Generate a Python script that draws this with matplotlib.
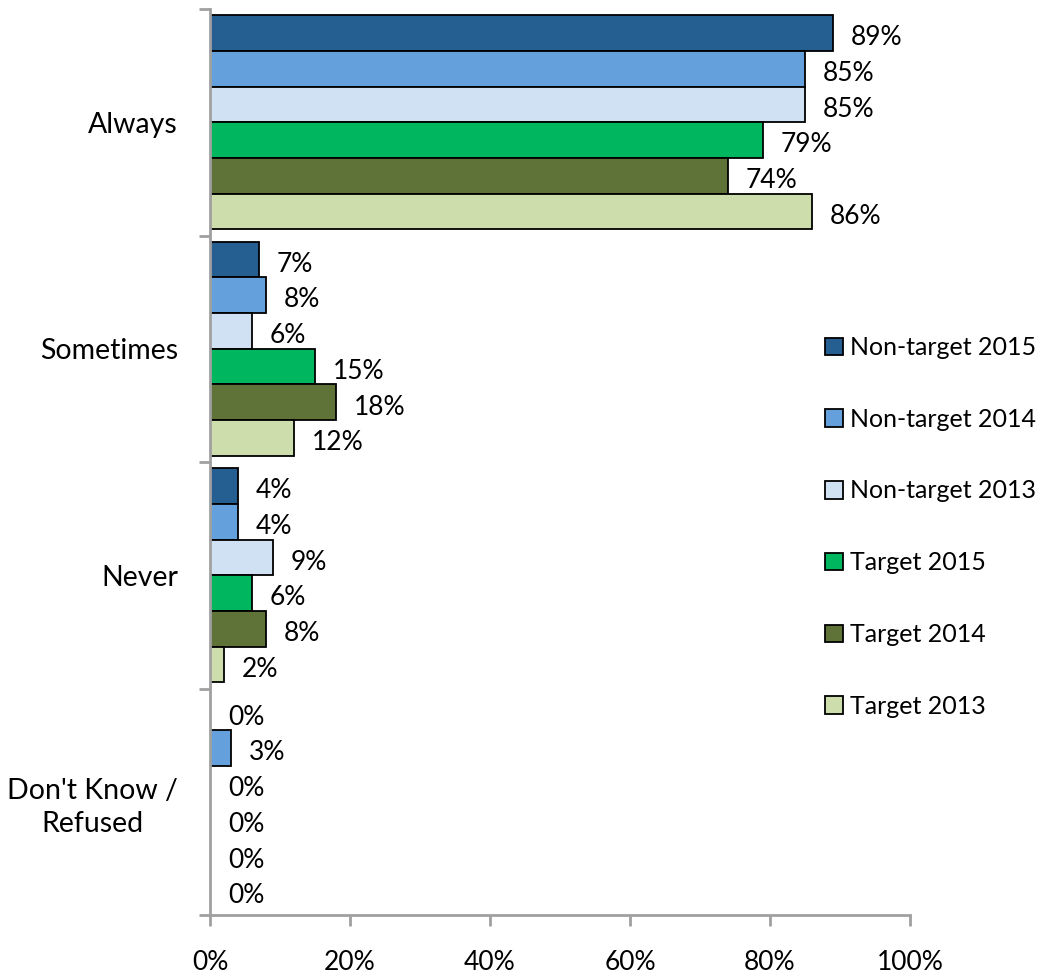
import matplotlib
matplotlib.use("Agg")
import matplotlib.pyplot as plt
import numpy as np

plt.rcParams['font.family'] = ['Lato', 'DejaVu Sans']

categories = ["Always", "Sometimes", "Never", "Don't Know /\nRefused"]
series_names = ["Non-target 2015", "Non-target 2014", "Non-target 2013",
                "Target 2015", "Target 2014", "Target 2013"]
nt2015 = [89, 7, 4, 0]
nt2014 = [85, 8, 4, 3]
nt2013 = [85, 6, 9, 0]
t2015 = [79, 15, 6, 0]
t2014 = [74, 18, 8, 0]
t2013 = [86, 12, 2, 0]
series_values = [nt2015, nt2014, nt2013, t2015, t2014, t2013]
colors = ["#255E91", "#64A0DC", "#CFE1F3", "#00B760", "#5F7238", "#CDDDAC"]
xticks = [0, 20, 40, 60, 80, 100]
xtick_labels = ["0%", "20%", "40%", "60%", "80%", "100%"]

fig = plt.figure(figsize=(10.44, 9.75), dpi=100)
ax = fig.add_axes([210/1044, 60/975, 700/1044, 906/975])

n = len(series_names)
group = 0.947
h = group / n
ypos = np.arange(len(categories))
for j, (name, vals, c) in enumerate(zip(series_names, series_values, colors)):
    y = ypos + (j - (n - 1) / 2) * h
    ax.barh(y, vals, height=h, color=c, edgecolor="black", linewidth=1.3, label=name)
    for yy, v in zip(y, vals):
        ax.annotate(f"{v}%", xy=(v, yy), xytext=(13, -3.5), textcoords="offset points",
                    ha="left", va="center", fontsize=19)

ax.set_xlim(0, 100)
ax.set_ylim(len(categories) - 0.5, -0.5)
ax.set_xticks(xticks)
ax.set_xticklabels(xtick_labels, fontsize=19)
ax.set_yticks(ypos)
ax.set_yticklabels(categories, fontsize=20.5, multialignment="center", linespacing=1.3)
for t in ax.get_yticklabels():
    t.set_y(t.get_position()[1])
ax.set_yticks(np.arange(len(categories) + 1) - 0.5, minor=True)
ax.tick_params(axis="y", which="major", length=0, pad=23)
ax.tick_params(axis="y", which="minor", length=8, width=2, color="#A0A0A0", direction="out")
ax.tick_params(axis="x", which="major", length=8, width=2, color="#A0A0A0", direction="out", pad=17)

for s in ["top", "right"]:
    ax.spines[s].set_visible(False)
for s in ["left", "bottom"]:
    ax.spines[s].set_color("#A0A0A0")
    ax.spines[s].set_linewidth(2)

leg = ax.legend(loc="upper left", bbox_to_anchor=(815/700 - 210/700, 1 - 317/906),
                frameon=False, fontsize=18, handlelength=0.7, handleheight=0.7,
                handletextpad=0.3, labelspacing=1.95, borderaxespad=0)
for p in leg.get_patches():
    p.set_linewidth(1.3)

fig.savefig("out.png", dpi=100)
